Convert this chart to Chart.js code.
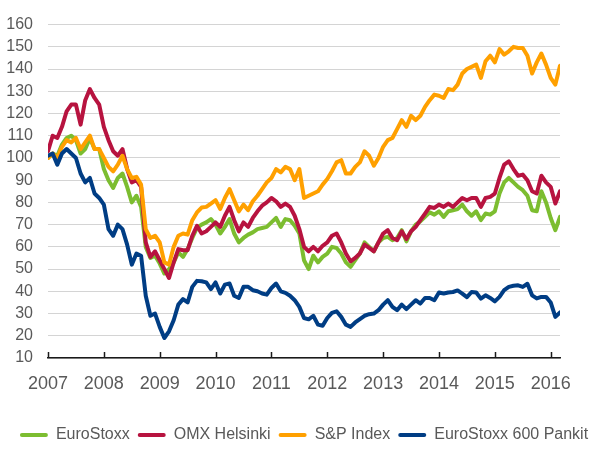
<!DOCTYPE html>
<html><head><meta charset="utf-8">
<script src="https://cdn.jsdelivr.net/npm/chart.js@4"></script>
<style>html,body{margin:0;padding:0;background:#fff;}</style>
</head><body>
<canvas id="c" width="608" height="453"></canvas>
<script>
const startYear = 2007;
const years = [2007, 2008, 2009, 2010, 2011, 2012, 2013, 2014, 2015, 2016];
const yTicks = [10, 20, 30, 40, 50, 60, 70, 80, 90, 100, 110, 120, 130, 140, 150, 160];
const seriesNames = ['EuroStoxx', 'OMX Helsinki', 'S&P Index', 'EuroStoxx 600 Pankit'];

// monthly index values, Jan 2007 .. Mar 2016
const eurostoxx = [
  100, 102, 101, 106, 109, 110, 108, 102, 104, 109, 104, 104,
  95, 90, 86.5, 91, 93, 87, 80, 83, 78, 60, 55, 56,
  52.5, 48, 50, 53, 57.5, 55.5, 59, 64, 68.5, 70, 71, 72.5,
  70, 66, 69, 72.5, 66, 62, 64, 65.5, 66.5, 68, 68.5, 69,
  71, 73, 69, 72.5, 72, 69.5, 66, 54, 50, 56, 53, 55.5,
  57, 60, 59.5, 57, 53, 51, 54, 57, 62, 60, 58, 62,
  64, 64.5, 63, 64, 67.5, 62.5, 67, 70, 71.5, 73.5, 75.5, 74.5,
  76, 73.5, 76, 76.5, 77, 79, 76, 74, 76, 72, 75, 74.5,
  76, 84, 89, 91, 89, 87, 85.5, 83, 76.5, 76, 85, 80,
  73, 67.5, 73.5
];
const omxHelsinki = [
  103, 110, 109, 114, 121, 124, 124, 115, 126, 131, 127, 124,
  114, 108, 103, 101, 104, 95, 89, 90, 87, 62, 55.5, 58,
  54, 50, 46, 53, 59, 58.5, 58.5, 65, 69.5, 66, 67, 69,
  71, 69, 74, 78, 72, 67, 71, 69, 73, 76, 78.5, 80,
  82, 80.5, 78, 79.5, 78, 74, 68, 60, 58, 60, 58, 60.5,
  62, 65, 66, 62, 57, 53.5, 55, 57, 61, 59.5, 58, 62,
  66, 67.5, 64, 63, 67, 63.5, 67, 69, 72, 75, 78, 77.5,
  79, 78, 79.5, 78, 80, 82, 81, 82, 82, 78, 82, 82.5,
  84, 91, 97, 98.5, 95, 92, 92.5, 90, 85, 84, 92, 89,
  87, 79.5, 85
];
const spIndex = [
  100, 102, 100, 105, 108, 107, 109, 104, 107, 110, 104, 104,
  100, 96, 94, 97, 101, 95, 91, 91.5, 88, 68, 64, 65,
  62, 53, 52, 60, 65, 66, 65.5, 72, 75.5, 77.7, 78, 79.5,
  81, 77, 82, 86, 81, 76, 79, 76.5, 80.5, 83, 86, 89,
  91, 95, 93.5, 96, 95, 90, 95, 82, 83, 84, 85, 88,
  90.5, 94, 98, 99, 93, 93, 96, 98, 103, 101, 96.5, 100,
  105, 108, 109, 113, 117, 114, 119, 117, 119, 123, 126, 128.5,
  128, 127, 131, 130.5, 133, 138, 140, 141, 142, 136, 143.5, 146,
  143, 149, 146.5, 148, 150, 149.5, 149.5, 146, 138, 143, 147, 142,
  136, 133, 141.5
];
const pankit = [
  101, 102, 97, 102, 104, 102, 100, 93, 89, 91, 84, 82,
  79, 68, 65, 70, 68, 61, 52, 57, 56, 38, 29, 30,
  24, 19, 22, 27, 34, 36.5, 35, 42, 44.7, 44.5, 44, 41,
  44, 39, 43, 43.5, 38, 37, 42, 42, 40.5, 40, 39, 38.5,
  41.5, 43.5, 40, 39.3, 38, 36, 33, 28, 27.4, 29, 25, 24.5,
  28, 30.3, 31, 28.5, 25, 24, 26, 27.5, 29, 29.7, 30, 31.5,
  34, 36, 33, 31.5, 34, 32, 34, 36, 34.5, 37, 37, 36,
  39.5, 39, 39.5, 39.7, 40.4, 39, 37.4, 39.7, 39.5, 36.7, 38.2, 37,
  35.5, 37.5, 40.5, 42, 42.5, 42.7, 42, 43.4, 38.2, 36.8, 37.5, 37.5,
  35, 28.5, 30.5
];

const colors = ['#7cbd30', '#b7133f', '#ffa000', '#003d84'];
const allSeries = [eurostoxx, omxHelsinki, spIndex, pankit];

const toPoints = arr => arr.map((v, i) => ({ x: startYear + i / 12, y: v }));

Chart.defaults.font.family = "'Liberation Sans', Arial, sans-serif";
Chart.defaults.color = '#595959';

const innerTicks = {
  id: 'innerTicks',
  afterDraw(chart) {
    const s = chart.scales.x, ctx = chart.ctx, b = chart.chartArea.bottom;
    ctx.save();
    ctx.strokeStyle = '#1a1a1a';
    ctx.lineWidth = 1.5;
    s.ticks.forEach(t => {
      const px = Math.round(s.getPixelForValue(t.value)) + 0.5;
      ctx.beginPath(); ctx.moveTo(px, b); ctx.lineTo(px, b - 6); ctx.stroke();
    });
    ctx.restore();
  }
};

new Chart(document.getElementById('c'), {
  type: 'line',
  data: {
    datasets: allSeries.map((arr, k) => ({
      label: seriesNames[k],
      data: toPoints(arr),
      borderColor: colors[k],
      backgroundColor: colors[k],
      borderWidth: 4,
      pointRadius: 0,
      tension: 0,
      borderJoinStyle: 'round',
      borderCapStyle: 'round',
      order: 4 - k
    }))
  },
  options: {
    responsive: false,
    animation: false,
    devicePixelRatio: 1,
    layout: { padding: { top: 24, right: 0, bottom: 0, left: 0 } },
    plugins: {
      tooltip: { enabled: false },
      legend: {
        position: 'bottom',
        labels: {
          boxWidth: 28,
          boxHeight: 4,
          padding: 8,
          font: { size: 16 },
          color: '#595959',
          useBorderRadius: true,
          borderRadius: 2,
          sort: (a, b) => a.datasetIndex - b.datasetIndex,
          generateLabels(chart) {
            const items = Chart.defaults.plugins.legend.labels.generateLabels(chart);
            items.forEach(it => { it.lineWidth = 0; it.fillStyle = colors[it.datasetIndex]; });
            return items;
          }
        }
      }
    },
    scales: {
      x: {
        type: 'linear',
        min: startYear,
        max: startYear + (eurostoxx.length - 1) / 12,
        afterBuildTicks(scale) { scale.ticks = years.map(v => ({ value: v })); },
        afterFit(scale) { scale.height = 61; },
        grid: { display: false },
        border: { display: true, color: '#1a1a1a', width: 1.5 },
        ticks: { font: { size: 18 }, color: '#595959', padding: 7, maxRotation: 0, autoSkip: false,
                 callback: v => String(v) }
      },
      y: {
        min: 10,
        max: 160,
        afterBuildTicks(scale) { scale.ticks = yTicks.map(v => ({ value: v })); },
        afterFit(scale) { scale.width = 48; },
        grid: { color: '#d4d4d4', lineWidth: 1, drawTicks: false },
        border: { display: false },
        ticks: { font: { size: 16 }, color: '#595959', padding: 15, autoSkip: false }
      },
      yR: {
        position: 'right',
        display: true,
        afterFit(scale) { scale.width = 48; },
        grid: { display: false, drawTicks: false },
        border: { display: false },
        ticks: { display: false }
      }
    }
  },
  plugins: [innerTicks]
});
</script>
</body></html>
